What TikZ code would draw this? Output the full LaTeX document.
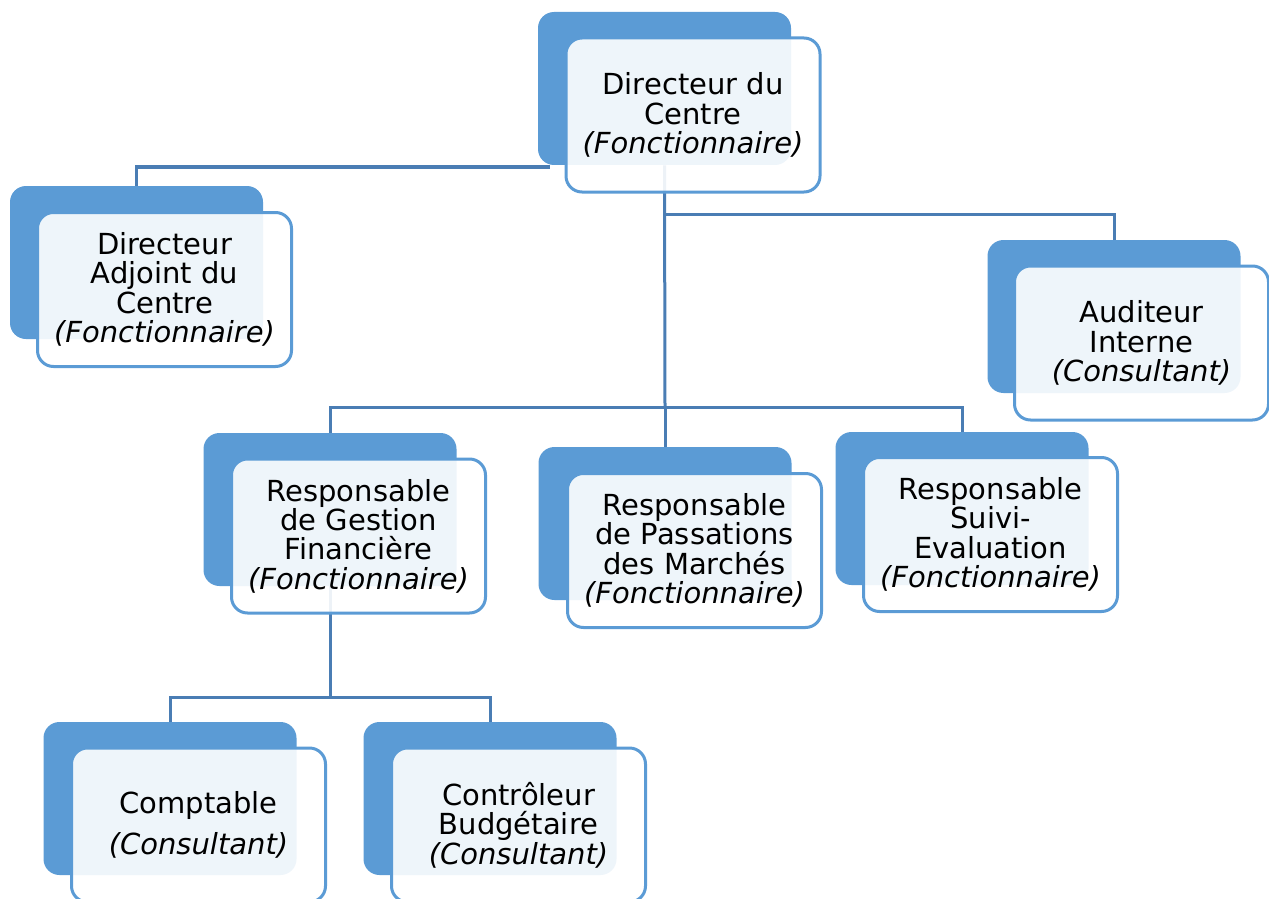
\documentclass[tikz,border=0pt]{standalone}
\usepackage{fontspec}
\setmainfont{DejaVu Sans}
\definecolor{boxblue}{HTML}{5B9BD5}
\definecolor{lineblue}{HTML}{4A7DB4}
\pgfdeclarelayer{bg}
\pgfsetlayers{bg,main}
\tikzset{
  backbox/.style={rectangle, rounded corners=8pt, fill=boxblue, draw=none,
    minimum width=126.5pt, minimum height=76.5pt, inner sep=0pt},
  frontbox/.style={rectangle, rounded corners=8pt, draw=boxblue, line width=1.5pt,
    fill=white, fill opacity=0.9, text opacity=1, minimum width=127pt,
    minimum height=77pt, inner sep=0pt, align=center,
    font=\fontsize{14.5}{14.7}\selectfont},
  conn/.style={draw=lineblue, line width=1.5pt}
}
\begin{document}
\begin{tikzpicture}[x={(0.5pt,0)}, y={(0,-0.5pt)}]
\useasboundingbox (0,0) rectangle (1269,899);
% back boxes
\node[backbox] (dirB) at (664.5,88.5) {};
\node[backbox] (adjB) at (136.5,262.5) {};
\node[backbox] (audB) at (1114,316.5) {};
\node[backbox] (rgfB) at (330,509.5) {};
\node[backbox] (rpmB) at (665,523.5) {};
\node[backbox] (rseB) at (962,508.5) {};
\node[backbox] (cptB) at (170,798.5) {};
\node[backbox] (ctlB) at (490,798.5) {};
% front boxes
\node[frontbox] (dirF) at ([shift={(28.5,26.5)}]dirB.center) {Directeur du\\Centre\\\textit{(Fonctionnaire)}};
\node[frontbox] (adjF) at ([shift={(28,27)}]adjB.center) {Directeur\\Adjoint du\\Centre\\\textit{(Fonctionnaire)}};
\node[frontbox] (audF) at ([shift={(27.5,26.5)}]audB.center) {Auditeur\\Interne\\\textit{(Consultant)}};
\node[frontbox] (rgfF) at ([shift={(28.5,26.5)}]rgfB.center) {Responsable\\de Gestion\\Financière\\\textit{(Fonctionnaire)}};
\node[frontbox] (rpmF) at ([shift={(29.5,27)}]rpmB.center) {Responsable\\de Passations\\des Marchés\\\textit{(Fonctionnaire)}};
\node[frontbox] (rseF) at ([shift={(28.5,26)}]rseB.center) {Responsable\\Suivi-\\Evaluation\\\textit{(Fonctionnaire)}};
\node[frontbox] (cptF) at ([shift={(28.5,26.5)}]cptB.center) {Comptable\\[5.5pt]\textit{(Consultant)}};
\node[frontbox] (ctlF) at ([shift={(28.5,26.5)}]ctlB.center) {Contrôleur\\Budgétaire\\\textit{(Consultant)}};
% connectors
\coordinate (adjJ) at (550,167);
\coordinate (audJ) at (665,214);
\coordinate (hub) at (665,407);
\coordinate (rgfJ) at (330,697);
\begin{pgfonlayer}{bg}
\draw[conn] (adjB.north) |- (adjJ);
\draw[conn] (dirB.south) -- (hub);
\draw[conn] (audJ) -| (audB.north);
\draw[conn] (hub) -| (rgfB.north);
\draw[conn] (hub) -| (rseB.north);
\draw[conn] (hub) -- (rpmB.north);
\draw[conn] (rgfB.south) -- (rgfJ);
\draw[conn] (rgfJ) -| (cptB.north);
\draw[conn] (rgfJ) -| (ctlB.north);
\end{pgfonlayer}
\end{tikzpicture}
\end{document}
